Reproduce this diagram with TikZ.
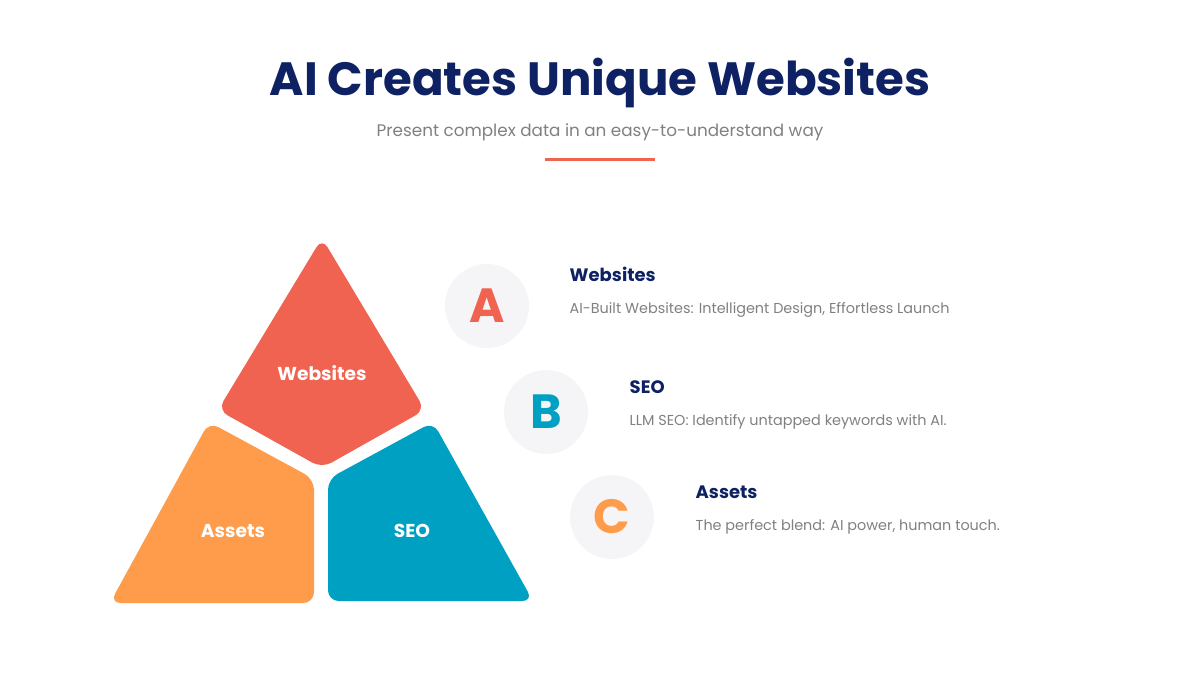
\documentclass[tikz,border=0pt]{standalone}
\usepackage{fontspec}
\setmainfont{Poppins}
\usepackage{tikz}
\usetikzlibrary{positioning}
\usepackage{xcolor}
\definecolor{titlenavy}{RGB}{13,33,99}
\definecolor{subgray}{RGB}{128,128,128}
\definecolor{webred}{RGB}{240,99,81}
\definecolor{assetorange}{RGB}{255,156,75}
\definecolor{seoblue}{RGB}{0,160,195}
\definecolor{circlegray}{RGB}{245,245,247}

\begin{document}
\begin{tikzpicture}[x=0.75pt, y=-0.75pt,
    piece/.style={rounded corners=8pt},
    badge/.style={circle, fill=circlegray, minimum size=63pt, inner sep=0pt, font=\fontsize{36}{40}\selectfont\bfseries},
    head/.style={anchor=west, font=\fontsize{13.5}{16}\selectfont\bfseries, text=titlenavy},
    desc/.style={anchor=west, font=\fontsize{10.8}{13}\selectfont, text=subgray},
    inlabel/.style={font=\fontsize{14}{16}\selectfont\bfseries, text=white}]
    \useasboundingbox (0,0) rectangle (1200,675);
    % Title
    \node[font=\fontsize{35}{42}\selectfont\bfseries, text=titlenavy] (title) at (600,83) {AI Creates Unique Websites};
    \node[font=\fontsize{12.6}{15}\selectfont, text=subgray] (subtitle) at (600,132) {Present complex data in an easy-to-understand way};
    \fill[webred] (545,157.5) rectangle (655,161);
    % Websites
    \fill[webred, piece] (322,238) -- (425,410) -- (322,468) -- (218,410) -- cycle;
    % Assets
    \fill[assetorange, piece] (209,422) -- (314,479) -- (314,603) -- (110,603) -- cycle;
    % SEO
    \fill[seoblue, piece] (433,422) -- (533,601) -- (328,601) -- (328,479) -- cycle;
    % Labels
    \node[inlabel] (webslabel) at (322,373) {Websites};
    \node[inlabel] (assetslabel) at (233,531) {Assets};
    \node[inlabel] (seolabel) at (412,531) {SEO};
    % Badges
    \node[badge, text=webred] (badgeA) at (487,306) {A};
    \node[badge, text=seoblue] (badgeB) at (546,412) {B};
    \node[badge, text=assetorange] (badgeC) at (612,517) {C};
    % Texts
    \node[head] (headA) at (565,274) {Websites};
    \node[desc] (descA) at (565,310) {AI-Built Websites: Intelligent Design, Effortless Launch};
    \node[head] (headB) at (625,387) {SEO};
    \node[desc] (descB) at (625,422) {LLM SEO: Identify untapped keywords with AI.};
    \node[head] (headC) at (691,492) {Assets};
    \node[desc] (descC) at (691,527) {The perfect blend: AI power, human touch.};
\end{tikzpicture}
\end{document}
